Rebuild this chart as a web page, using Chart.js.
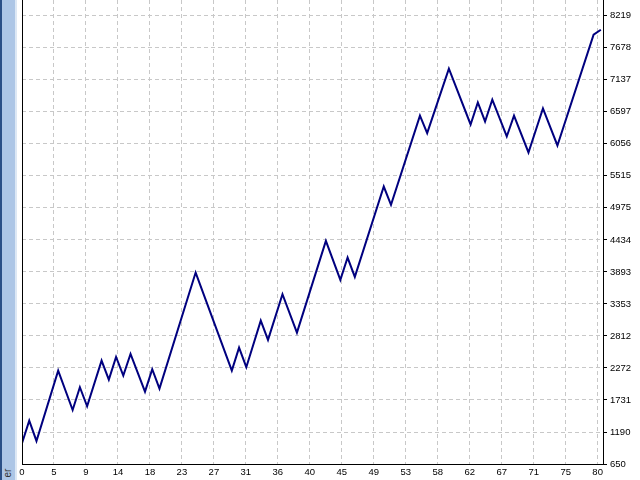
<!DOCTYPE html>
<html>
<head>
<meta charset="utf-8">
<script src="https://cdn.jsdelivr.net/npm/chart.js@4"></script>
<style>
  html, body { margin: 0; padding: 0; background: #fff; }
  #wrap { position: relative; width: 640px; height: 480px; overflow: hidden; }
  #chart { position: absolute; left: 0; top: 0; }
  /* side panel strip on the left edge */
  #strip { position: absolute; left: 0; top: 0; width: 17px; height: 480px;
           background: #adc6e6; border-left: 2px solid #2a4f86; box-sizing: border-box; }
  #stripEdge { position: absolute; left: 15px; top: 0; width: 2px; height: 480px; background: #dde8f5; }
  #stripText { position: absolute; left: 1px; top: 466px; width: 14px; height: 14px;
               font: 10px "Liberation Sans", sans-serif; color: #333;
               transform: rotate(-90deg); transform-origin: center; text-align: center; line-height: 14px; }
</style>
</head>
<body>
<div id="wrap">
  <div id="strip"></div>
  <div id="stripEdge"></div>
  <div id="stripText">er</div>
  <canvas id="chart" width="640" height="480"></canvas>
</div>
<script>
/**************************************************************
 * Data
 **************************************************************/
// trade number at each turning point of the balance line
const tradeIdx = [0, 1, 2, 5, 7, 8, 9, 11, 12, 13, 14, 15, 17, 18, 19, 24,
                  29, 30, 31, 33, 34, 36, 38, 42, 44, 45, 46, 50, 51,
                  55, 56, 59, 62, 63, 64, 65, 67, 68, 70, 72, 74, 79, 80];
// account balance at those trades
const balance = [1000, 1382, 1039, 2226, 1562, 1946, 1625, 2395, 2074, 2458, 2142, 2508, 1871, 2250, 1922, 3882,
                 2226, 2615, 2284, 3071, 2745, 3517, 2868, 4418, 3759, 4136, 3809, 5335, 5026,
                 6530, 6237, 7324, 6383, 6754, 6433, 6800, 6180, 6530, 5910, 6653, 6028, 7898, 7982];

const yTicks = [650, 1190, 1731, 2272, 2812, 3353, 3893, 4434, 4975, 5515, 6056, 6597, 7137, 7678, 8219];
const xTickLabels = ["0", "5", "9", "14", "18", "23", "27", "31", "36", "40",
                     "45", "49", "53", "58", "62", "67", "71", "75", "80"];

const X_MAX = 80.3;     // visible trade range
const X_STEP = 4.42;    // spacing between vertical grid lines (in trades)
const Y_MIN = 650;
const Y_MAX = 8484;

/**************************************************************
 * Chart
 **************************************************************/
const FONT = { family: "'Liberation Sans', Arial, sans-serif", size: 9.5 };

// left border line of the plot (no axis on that side)
const leftBorder = {
  id: "leftBorder",
  afterDraw(chart) {
    const { ctx, chartArea } = chart;
    ctx.save();
    ctx.strokeStyle = "#000";
    ctx.lineWidth = 1;
    ctx.beginPath();
    ctx.moveTo(chartArea.left + 0.5, chartArea.top);
    ctx.lineTo(chartArea.left + 0.5, chartArea.bottom + 1);
    ctx.stroke();
    ctx.restore();
  }
};

const ctx = document.getElementById("chart").getContext("2d");
new Chart(ctx, {
  type: "line",
  data: {
    datasets: [{
      data: tradeIdx.map((t, i) => ({ x: t, y: balance[i] })),
      borderColor: "#00007f",
      borderWidth: 2,
      pointRadius: 0,
      tension: 0,
      fill: false
    }]
  },
  options: {
    responsive: false,
    devicePixelRatio: 1,
    animation: false,
    layout: { autoPadding: false, padding: { left: 22, top: 0, right: 0, bottom: 0 } },
    plugins: { legend: { display: false }, tooltip: { enabled: false } },
    scales: {
      x: {
        type: "linear",
        min: 0,
        max: X_MAX,
        afterFit: (s) => {
          s.height = 16;
          s.paddingLeft = 0;
          s.paddingRight = 0;
        },
        afterBuildTicks: (s) => {
          s.ticks = xTickLabels.map((_, i) => ({ value: i * X_STEP }));
        },
        ticks: {
          autoSkip: false,
          maxRotation: 0,
          padding: 3,
          color: "#000",
          font: FONT,
          callback: (v, i) => xTickLabels[i]
        },
        grid: {
          color: "#c8c8c8",
          drawTicks: false
        },
        border: { color: "#000", width: 1, dash: [4, 3] }
      },
      y: {
        position: "right",
        min: Y_MIN,
        max: Y_MAX,
        afterFit: (s) => {
          s.width = 37;
          s.paddingTop = 0;
          s.paddingBottom = 0;
        },
        afterBuildTicks: (s) => {
          s.ticks = yTicks.map(v => ({ value: v }));
        },
        ticks: {
          autoSkip: false,
          padding: 3,
          color: "#000",
          font: FONT,
          callback: (v) => String(v)
        },
        grid: {
          color: "#c8c8c8",
          tickColor: "#000",
          tickLength: 4,
          drawTicks: true
        },
        border: { color: "#000", width: 1, dash: [4, 3] }
      }
    }
  },
  plugins: [leftBorder]
});
</script>
</body>
</html>
